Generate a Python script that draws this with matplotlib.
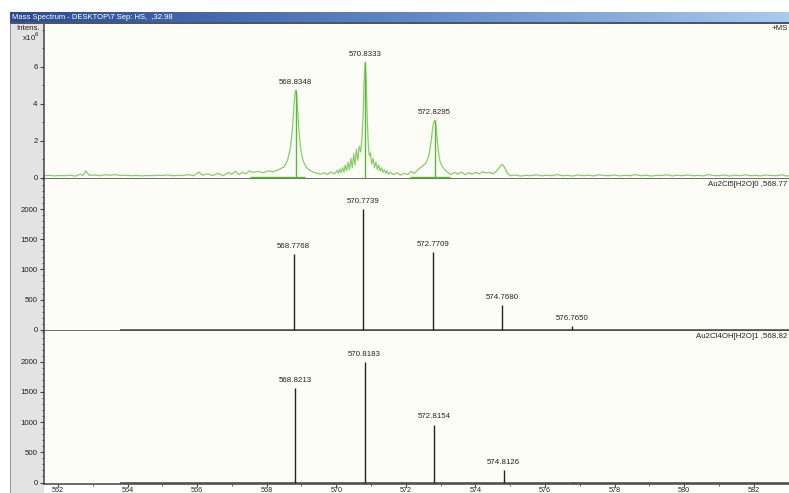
import numpy as np
import matplotlib
matplotlib.use("Agg")
import matplotlib.pyplot as plt
from matplotlib.patches import Rectangle
from matplotlib.ticker import MultipleLocator, FixedLocator
from matplotlib.colors import LinearSegmentedColormap

# ---------------- data ----------------
title_text = "Mass Spectrum - DESKTOP\\7 Sep: HS,  ,32.98"

# measured profile spectrum (m/z, intensity x1e6)
meas_mz = [561.60, 561.75, 561.90, 562.05, 562.20, 562.35, 562.50, 562.65, 562.72, 562.80,
           562.90, 563.05, 563.20, 563.35, 563.50, 563.65, 563.80, 563.95, 564.10, 564.25,
           564.40, 564.55, 564.70, 564.85, 565.00, 565.15, 565.30, 565.45, 565.60, 565.75,
           565.90, 566.05, 566.15, 566.30, 566.45, 566.60, 566.75, 566.90, 567.00, 567.10,
           567.20, 567.30, 567.40, 567.50, 567.60, 567.75, 567.90, 568.05, 568.20, 568.35,
           568.50, 568.60, 568.68, 568.74, 568.78, 568.81, 568.835, 568.86, 568.89, 568.93,
           568.98, 569.05, 569.15, 569.25, 569.35, 569.45, 569.55, 569.65, 569.75, 569.85,
           569.95, 570.02, 570.06, 570.10, 570.14, 570.18, 570.22, 570.26, 570.30, 570.34,
           570.38, 570.42, 570.46, 570.50, 570.54, 570.58, 570.62, 570.66, 570.70, 570.74,
           570.77, 570.80, 570.833, 570.86, 570.89, 570.92, 570.95, 570.98, 571.02, 571.06,
           571.10, 571.14, 571.18, 571.22, 571.26, 571.30, 571.34, 571.38, 571.42, 571.46,
           571.50, 571.55, 571.65, 571.75, 571.85, 571.95, 572.05, 572.15, 572.25, 572.35,
           572.45, 572.55, 572.62, 572.68, 572.73, 572.77, 572.80, 572.83, 572.86, 572.89,
           572.93, 572.98, 573.05, 573.12, 573.20, 573.30, 573.40, 573.50, 573.60, 573.70,
           573.80, 573.90, 574.00, 574.10, 574.20, 574.30, 574.40, 574.50, 574.60, 574.68,
           574.74, 574.78, 574.84, 574.92, 575.00, 575.15, 575.30, 575.45, 575.60, 575.75,
           575.90, 576.05, 576.20, 576.35, 576.50, 576.65, 576.80, 576.95, 577.10, 577.25,
           577.40, 577.55, 577.70, 577.85, 578.00, 578.15, 578.30, 578.45, 578.60, 578.75,
           578.90, 579.05, 579.20, 579.35, 579.50, 579.65, 579.80, 579.95, 580.10, 580.25,
           580.40, 580.55, 580.70, 580.85, 581.00, 581.15, 581.30, 581.45, 581.60, 581.75,
           581.90, 582.05, 582.20, 582.35, 582.50, 582.65, 582.80, 582.95, 583.04]
meas_int = [0.12, 0.14, 0.11, 0.13, 0.12, 0.15, 0.10, 0.20, 0.12, 0.38,
            0.14, 0.16, 0.12, 0.17, 0.15, 0.18, 0.13, 0.15, 0.12, 0.14,
            0.11, 0.13, 0.12, 0.15, 0.13, 0.16, 0.12, 0.14, 0.13, 0.18,
            0.12, 0.32, 0.15, 0.22, 0.13, 0.25, 0.12, 0.30, 0.20, 0.36,
            0.18, 0.30, 0.22, 0.38, 0.30, 0.35, 0.28, 0.38, 0.34, 0.45,
            0.60, 0.95, 1.60, 2.60, 3.80, 4.50, 4.75, 4.50, 3.60, 2.50,
            1.50, 0.90, 0.55, 0.40, 0.30, 0.25, 0.20, 0.28, 0.18, 0.32,
            0.22, 0.40, 0.25, 0.48, 0.28, 0.55, 0.32, 0.70, 0.38, 0.85,
            0.45, 1.05, 0.55, 1.30, 0.70, 1.55, 0.95, 1.70, 1.40, 2.20,
            3.30, 5.20, 6.25, 5.20, 3.20, 1.80, 1.20, 1.35, 0.75, 1.05,
            0.55, 0.85, 0.45, 0.70, 0.38, 0.55, 0.30, 0.45, 0.25, 0.38,
            0.20, 0.30, 0.18, 0.28, 0.15, 0.25, 0.18, 0.35, 0.25, 0.45,
            0.60, 0.75, 0.95, 1.40, 2.00, 2.70, 3.00, 3.10, 2.90, 2.30,
            1.50, 0.90, 0.60, 0.45, 0.30, 0.18, 0.30, 0.20, 0.32, 0.17,
            0.28, 0.20, 0.30, 0.22, 0.33, 0.28, 0.30, 0.22, 0.35, 0.55,
            0.70, 0.72, 0.55, 0.25, 0.12, 0.16, 0.10, 0.14, 0.12, 0.17,
            0.11, 0.15, 0.12, 0.18, 0.12, 0.14, 0.10, 0.16, 0.12, 0.15,
            0.11, 0.17, 0.13, 0.12, 0.16, 0.11, 0.14, 0.12, 0.18, 0.12,
            0.15, 0.10, 0.14, 0.13, 0.17, 0.11, 0.15, 0.12, 0.16, 0.12,
            0.14, 0.11, 0.18, 0.13, 0.12, 0.16, 0.10, 0.15, 0.12, 0.17,
            0.12, 0.14, 0.11, 0.16, 0.13, 0.12, 0.17, 0.10, 0.14]

meas_peaks_mz = [568.8348, 570.8333, 572.8295]
meas_peaks_int = [4.75, 6.25, 3.10]
meas_labels = ["568.8348", "570.8333", "572.8295"]

# theoretical pattern 1: Au2Cl5[H2O]0
th1_mz = [568.7768, 570.7739, 572.7709, 574.7680, 576.7650]
th1_int = [1252, 2000, 1280, 409, 65]
th1_labels = ["568.7768", "570.7739", "572.7709", "574.7680", "576.7650"]

# theoretical pattern 2: Au2Cl4OH[H2O]1
th2_mz = [568.8213, 570.8183, 572.8154, 574.8126, 576.8100]
th2_int = [1563, 2000, 959, 205, 16]
th2_labels = ["568.8213", "570.8183", "572.8154", "574.8126", ""]

x_ticks = [562, 564, 566, 568, 570, 572, 574, 576, 578, 580, 582]
top_yticks = [0, 2, 4, 6]
stick_yticks = [0, 500, 1000, 1500, 2000]

# ---------------- layout ----------------
W, H = 789, 493
fig = plt.figure(figsize=(W / 100, H / 100), dpi=100)
fig.patch.set_facecolor("white")
FONT = "Liberation Sans"
FS = 5.7

def rect(x0, y0, x1, y1):
    return [x0 / W, 1 - y1 / H, (x1 - x0) / W, (y1 - y0) / H]

# gray left panel (behind axes)
fig.add_artist(Rectangle((10 / W, 0), 34 / W, 1 - 22.5 / H, transform=fig.transFigure,
                         facecolor="#e3e3e3", edgecolor="none", zorder=-5))
fig.add_artist(Rectangle((10 / W, 0), 1.2 / W, 1 - 22.5 / H, transform=fig.transFigure,
                         facecolor="#9a9a9a", edgecolor="none", zorder=-4))

# title bar gradient
tb = fig.add_axes(rect(10, 12, 789, 22.5))
grad = np.linspace(0, 1, 256).reshape(1, -1)
cm = LinearSegmentedColormap.from_list("tb", ["#2a4b93", "#5e86c4", "#a8cbee"])
tb.imshow(grad, aspect="auto", cmap=cm, extent=[0, 1, 0, 1])
tb.set_axis_off()
tb.text(0.003, 0.5, title_text, color="white", fontsize=5.5, family=FONT,
        va="center", ha="left", transform=tb.transAxes)
fig.add_artist(Rectangle((10 / W, 1 - 23.5 / H), 779 / W, 1.2 / H, transform=fig.transFigure,
                         facecolor="#555555", edgecolor="none", zorder=3))

BG = "#fdfdf7"
XL = (561.6, 583.04)

def style(ax, yt, ymin, ymax, minor):
    ax.set_facecolor(BG)
    ax.set_xlim(*XL)
    ax.set_ylim(ymin, ymax)
    for s in ["top", "right"]:
        ax.spines[s].set_visible(False)
    for s in ["left", "bottom"]:
        ax.spines[s].set_color("#444444")
        ax.spines[s].set_linewidth(1.1)
    ax.yaxis.set_major_locator(FixedLocator(yt))
    ax.yaxis.set_minor_locator(MultipleLocator(minor))
    ax.tick_params(axis="y", which="major", length=3, width=0.8, color="#444", pad=1.5,
                   labelsize=FS, labelcolor="#222")
    ax.tick_params(axis="y", which="minor", length=1.8, width=0.6, color="#444")
    for lab in ax.get_yticklabels():
        lab.set_family(FONT)

# top panel - measured spectrum
ax1 = fig.add_axes(rect(44, 23.5, 790, 178.5))
style(ax1, top_yticks, -0.03, 8.33, 1)
ax1.set_xticks([])
ax1.plot(meas_mz, meas_int, color="#86cf66", lw=0.9, zorder=2)
ax1.vlines(meas_peaks_mz, 0, meas_peaks_int, color="#5cb83c", lw=1.0, zorder=3)
ax1.hlines([0.03, 0.03], [567.53, 572.13], [569.1, 573.28], color="#5cb83c", lw=1.0, zorder=3)
for m, v, t in zip(meas_peaks_mz, meas_peaks_int, meas_labels):
    ax1.annotate(t, (m, v), xytext=(0, 3), textcoords="offset points", ha="center",
                 va="bottom", fontsize=FS, family=FONT, color="#222")
fig.text(787.5 / W, 1 - 28 / H, "+MS", fontsize=FS, family=FONT, color="#222",
         ha="right", va="center")
fig.text(40 / W, 1 - 28 / H, "Intens.", fontsize=FS, family=FONT, color="#222",
         ha="right", va="center")
fig.text(40 / W, 1 - 37 / H, r"x10$^{6}$", fontsize=FS, family=FONT, color="#222",
         ha="right", va="center")

# middle panel
ax2 = fig.add_axes(rect(44, 178.5, 790, 331))
style(ax2, stick_yticks, -20, 2505, 100)
ax2.set_xticks([])
ax2.hlines(0, 563.78, XL[1], color="#444", lw=1.1)
ax2.vlines(th1_mz, 0, th1_int, color="#222", lw=1.0)
for m, v, t in zip(th1_mz, th1_int, th1_labels):
    ax2.annotate(t, (m, v), xytext=(0, 3), textcoords="offset points", ha="center",
                 va="bottom", fontsize=FS, family=FONT, color="#222")
fig.text(787.5 / W, 1 - 184.5 / H, "Au2Cl5[H2O]0 ,568.77", fontsize=FS, family=FONT,
         color="#222", ha="right", va="center")

# bottom panel
ax3 = fig.add_axes(rect(44, 331, 790, 483.5))
style(ax3, stick_yticks, -16, 2510, 100)
ax3.hlines(0, 563.78, XL[1], color="#444", lw=1.1)
ax3.vlines(th2_mz, 0, th2_int, color="#222", lw=1.0)
for m, v, t in zip(th2_mz, th2_int, th2_labels):
    if t:
        ax3.annotate(t, (m, v), xytext=(0, 3), textcoords="offset points", ha="center",
                     va="bottom", fontsize=FS, family=FONT, color="#222")
fig.text(787.5 / W, 1 - 337 / H, "Au2Cl4OH[H2O]1 ,568.82", fontsize=FS, family=FONT,
         color="#222", ha="right", va="center")
ax3.set_xticks(x_ticks)
ax3.xaxis.set_minor_locator(MultipleLocator(1))
ax3.tick_params(axis="x", which="major", length=2, width=0.8, color="#444", pad=0.3,
                labelsize=5.2, labelcolor="#222")
ax3.tick_params(axis="x", which="minor", length=1.5, width=0.6, color="#444")
for lab in ax3.get_xticklabels():
    lab.set_family(FONT)

fig.savefig("out.png", dpi=100, facecolor="white")
